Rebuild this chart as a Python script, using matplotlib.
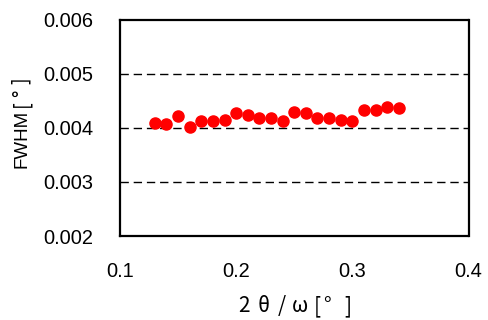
import matplotlib
matplotlib.use("Agg")
import matplotlib.pyplot as plt

# FWHM of the rocking curve versus 2θ/ω offset
two_theta_omega = [0.13, 0.14, 0.15, 0.16, 0.17, 0.18, 0.19, 0.20, 0.21, 0.22, 0.23,
                   0.24, 0.25, 0.26, 0.27, 0.28, 0.29, 0.30, 0.31, 0.32, 0.33, 0.34]
fwhm = [0.00409, 0.00407, 0.00421, 0.00402, 0.00412, 0.00412, 0.00415, 0.00427,
        0.00424, 0.00418, 0.00418, 0.00412, 0.00430, 0.00427, 0.00418, 0.00418,
        0.00415, 0.00412, 0.00433, 0.00433, 0.00439, 0.00436]

x_ticks = [0.1, 0.2, 0.3, 0.4]
y_ticks = [0.002, 0.003, 0.004, 0.005, 0.006]

W, H = 489, 320
fig = plt.figure(figsize=(W / 100, H / 100), dpi=100)
ax = fig.add_axes([120 / W, 1 - 236 / H, 348.5 / W, 216.5 / H])

ax.plot(two_theta_omega, fwhm, linestyle="none", marker="o", markersize=8,
        color="#ff0000", markeredgecolor="#ff0000", zorder=3)

ax.set_xlim(0.1, 0.4)
ax.set_ylim(0.002, 0.006)
ax.set_xticks(x_ticks)
ax.set_yticks(y_ticks)
ax.set_xticklabels([f"{v:.1f}" for v in x_ticks], fontfamily="Liberation Sans", fontsize=14.4)
ax.set_yticklabels([f"{v:.3f}" for v in y_ticks], fontfamily="Liberation Sans", fontsize=14.4)
ax.tick_params(axis="x", length=0, pad=19)
ax.tick_params(axis="y", length=0, pad=19)

for y in y_ticks[1:-1]:
    ax.axhline(y, color="black", linestyle=(0, (6, 3.5)), linewidth=1.0, zorder=1)

for s in ax.spines.values():
    s.set_linewidth(1.6)
    s.set_color("black")

# axis titles set in fixed-width cells, as a Japanese monospaced font would lay them out
jp = ["Noto Sans CJK JP", "DejaVu Sans"]
xlabel_chars = ["2", "θ", "/", "ω", "[", "°", "]"]
xlabel_px = [244, 264, 282, 300, 317, 327, 348]
for ch, px in zip(xlabel_chars, xlabel_px):
    fig.text(px / W, 1 - 312 / H, ch, ha="center", va="baseline",
             fontsize=15, family=jp)

fig.text(27 / W, 1 - 168 / H, "FWHM", rotation=90, rotation_mode="anchor",
         ha="left", va="baseline", fontsize=13.5, family=["Liberation Sans"])
ylabel_chars = ["[", "°", "]"]
ylabel_py = [104, 93, 81]
for ch, py in zip(ylabel_chars, ylabel_py):
    fig.text(27 / W, 1 - py / H, ch, rotation=90, rotation_mode="anchor",
             ha="center", va="baseline", fontsize=14.4, family=jp)

fig.savefig("out.png", dpi=100)
